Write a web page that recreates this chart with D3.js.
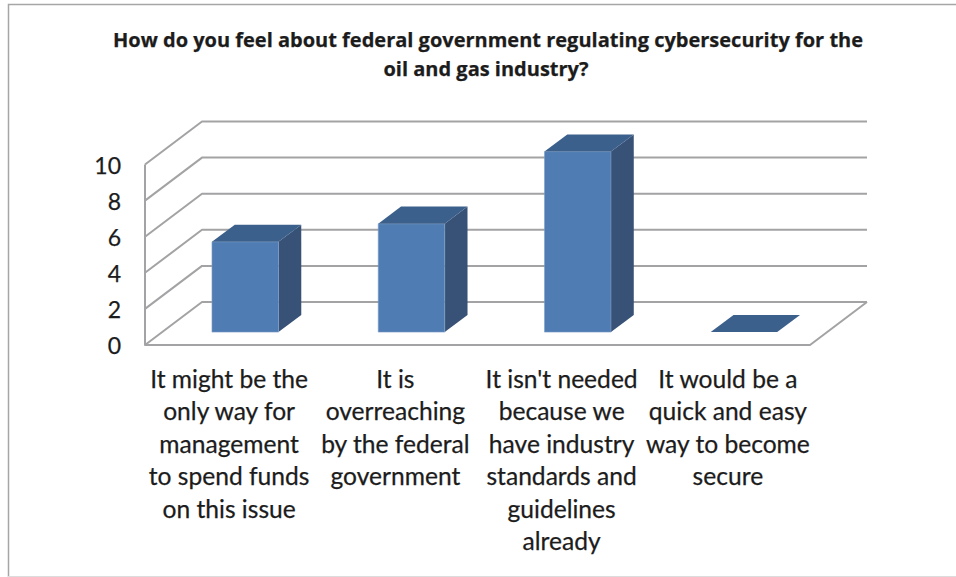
<!DOCTYPE html>
<html>
<head>
<meta charset="utf-8">
<script src="https://cdn.jsdelivr.net/npm/d3@7/dist/d3.min.js"></script>
<style>
html, body { margin: 0; padding: 0; background: #fff; }
svg { display: block; }
text { font-family: Lato, "Open Sans", sans-serif; fill: #1c1c1c; stroke: #1c1c1c; stroke-width: 0.25; }
text.title { font-family: "Open Sans", sans-serif; font-weight: 700; }
</style>
</head>
<body>
<svg id="chart" width="956" height="577"></svg>
<script>
// Survey responses
const titleLines = [
  "How do you feel about federal government regulating cybersecurity for the",
  "oil and gas industry?"
];
const categories = [
  "It might be the only way for management to spend funds on this issue",
  "It is overreaching by the federal government",
  "It isn't needed because we have industry standards and guidelines already",
  "It would be a quick and easy way to become secure"
];
const categoryLines = [
  ["It might be the", "only way for", "management", "to spend funds", "on this issue"],
  ["It is", "overreaching", "by the federal", "government"],
  ["It isn't needed", "because we", "have industry", "standards and", "guidelines", "already"],
  ["It would be a", "quick and easy", "way to become", "secure"]
];
const responses = [5, 6, 10, 0];
const yTicks = [0, 2, 4, 6, 8, 10];

const svg = d3.select("#chart");

// Chart-area frame
svg.append("path")
  .attr("d", "M8.5,577V4.5H956")
  .attr("fill", "none")
  .attr("stroke", "#a6a6a6")
  .attr("stroke-width", 1.5);
svg.append("line")
  .attr("x1", 8).attr("x2", 956).attr("y1", 576.5).attr("y2", 576.5)
  .attr("stroke", "#dcdcdc");

// Oblique projection: the floor recedes by (depthX, -depthY)
const depthX = 57, depthY = 43;
const x = d3.scaleBand().domain(d3.range(categories.length)).range([145, 810]);
const y = d3.scaleLinear().domain([0, 10]).range([345, 164.5]);
const project = (px, py, d) => [px + depthX * d, py - depthY * d];
const line = d3.line();

const gridColor = "#a3a3a5";
const plot = svg.append("g").attr("fill", "none").attr("stroke-linejoin", "round");

// Walls: gridlines run along the side wall, then across the back wall
plot.selectAll("path.grid")
  .data(yTicks)
  .join("path")
  .attr("class", "grid")
  .attr("stroke", gridColor)
  .attr("stroke-width", 2)
  .attr("d", t => line([
    [x.range()[0], y(t)],
    project(x.range()[0], y(t), 1),
    project(x.range()[1], y(t), 1)
  ]));

// Floor outline and front-left edge
plot.append("path")
  .attr("stroke", gridColor)
  .attr("stroke-width", 2)
  .attr("d", line([
    [x.range()[0], y(10)],
    [x.range()[0], y(0)],
    [x.range()[1], y(0)],
    project(x.range()[1], y(0), 1)
  ]));

// Bars sit in the middle of the floor depth
const barWidth = x.bandwidth() * 0.4;
const barStart = 0.3, barDepth = 0.4;
const bars = svg.append("g")
  .selectAll("g")
  .data(responses)
  .join("g");

bars.each(function (v, i) {
  const g = d3.select(this);
  const x0 = x(i) + (x.bandwidth() - barWidth) / 2;
  const x1 = x0 + barWidth;
  const front = (px, py) => project(px, py, barStart);
  const back = (px, py) => project(px, py, barStart + barDepth);
  const yBase = y(0), yTop = y(v);
  const a = front(x0, yTop), b = front(x1, yTop), c = front(x1, yBase), e = front(x0, yBase);
  const f = back(x0, yTop), h = back(x1, yTop), k = back(x1, yBase);
  if (v > 0) {
    g.append("path").attr("d", line([b, h, k, c]) + "Z").attr("fill", "#385176");
    g.append("path").attr("d", line([a, b, c, e]) + "Z").attr("fill", "#4f7cb2")
      .attr("stroke", "#7ea0c8").attr("stroke-width", 0.6);
  }
  g.append("path").attr("d", line([a, f, h, b]) + "Z").attr("fill", "#3c608c");
});

// Value axis labels
svg.append("g").selectAll("text")
  .data(yTicks)
  .join("text")
  .attr("x", 121)
  .attr("y", t => y(t) + 9)
  .attr("text-anchor", "end")
  .attr("font-size", 23)
  .text(d => d);

// Category labels
const labels = svg.append("g").selectAll("g")
  .data(categoryLines)
  .join("g");
labels.selectAll("text")
  .data((d, i) => d.map(s => ({ s, i })))
  .join("text")
  .attr("x", d => x(d.i) + x.bandwidth() / 2 + 1)
  .attr("y", (d, j) => 387.5 + j * 32.5)
  .attr("text-anchor", "middle")
  .attr("font-size", 24.6)
  .text(d => d.s);

// Title
svg.append("g").selectAll("text")
  .data(titleLines)
  .join("text")
  .attr("class", "title")
  .attr("x", (d, i) => 488 - i * 2)
  .attr("y", (d, i) => 47 + i * 29)
  .attr("text-anchor", "middle")
  .attr("font-size", 20)
  .text(d => d);
</script>
</body>
</html>
